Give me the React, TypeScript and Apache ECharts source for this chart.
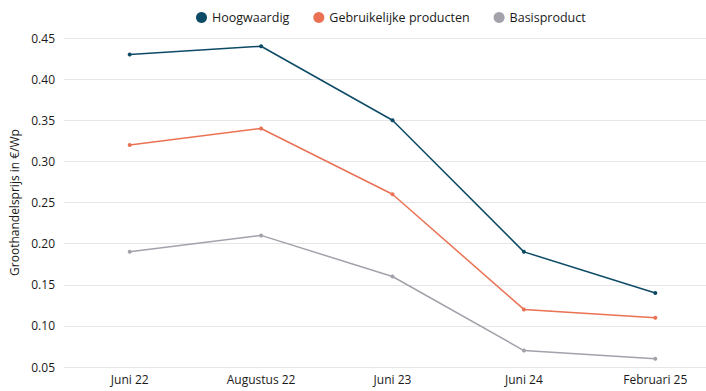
import React, { useEffect, useRef } from "react";
import * as echarts from "echarts";

const categories = ["Juni 22", "Augustus 22", "Juni 23", "Juni 24", "Februari 25"];
const hoogwaardig = [0.43, 0.44, 0.35, 0.19, 0.14];
const gebruikelijk = [0.32, 0.34, 0.26, 0.12, 0.11];
const basis = [0.19, 0.21, 0.16, 0.07, 0.06];
const seriesNames = ["Hoogwaardig", "Gebruikelijke producten", "Basisproduct"];
const colors = ["#0d4a66", "#ea7153", "#a3a2ab"];

export default function App() {
  const ref = useRef<HTMLDivElement>(null);
  useEffect(() => {
    if (!ref.current) return;
    const chart = echarts.init(ref.current, null, { renderer: "svg" });
    const font = "'Open Sans', 'Noto Sans', sans-serif";
    const mk = (name: string, data: number[], color: string) => ({
      name,
      type: "line",
      data,
      color,
      symbol: "circle",
      symbolSize: 4,
      lineStyle: { width: 1.5, color },
      itemStyle: { color },
    });
    chart.setOption({
      animation: false,
      textStyle: { fontFamily: font },
      legend: {
        left: 191,
        top: 6,
        icon: "circle",
        itemWidth: 11,
        itemHeight: 11,
        itemGap: 24,
        textStyle: { fontSize: 12.5, color: "#1a1a1a", fontFamily: font },
        data: seriesNames,
      },
      grid: { left: 61, right: 0, top: 38, bottom: 24, containLabel: false },
      xAxis: {
        type: "category",
        data: categories,
        boundaryGap: true,
        axisLine: { show: false },
        axisTick: { show: false },
        axisLabel: { color: "#1a1a1a", fontSize: 12, margin: 6, fontFamily: font },
      },
      yAxis: {
        type: "value",
        min: 0.05,
        max: 0.45,
        interval: 0.05,
        name: "Groothandelsprijs in €/Wp",
        nameLocation: "middle",
        nameGap: 44,
        nameTextStyle: { color: "#1a1a1a", fontSize: 12, fontFamily: font },
        axisLine: { show: false },
        axisTick: { show: false },
        axisLabel: {
          color: "#1a1a1a",
          fontSize: 12,
          margin: 9,
          fontFamily: font,
          formatter: (v: number) => v.toFixed(2),
        },
        splitLine: { lineStyle: { color: "#e6e6e6", width: 1 } },
      },
      series: [
        mk(seriesNames[0], hoogwaardig, colors[0]),
        mk(seriesNames[1], gebruikelijk, colors[1]),
        mk(seriesNames[2], basis, colors[2]),
      ],
    });
    return () => chart.dispose();
  }, []);
  return (
    <div
      style={{ position: "absolute", left: 0, top: 0, width: 706, height: 391, overflow: "hidden", background: "#fff" }}
    >
      <div ref={ref} style={{ width: 721, height: 391 }} />
    </div>
  );
}
